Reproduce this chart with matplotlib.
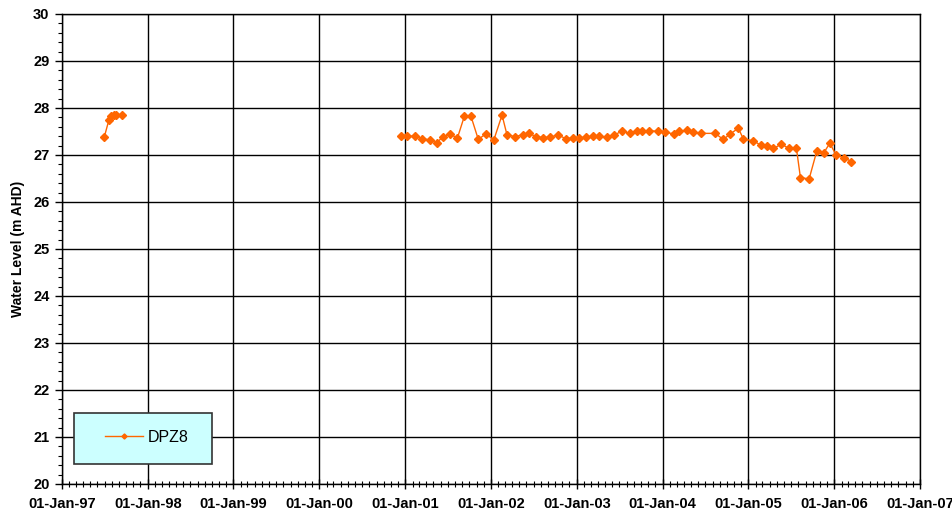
import matplotlib
matplotlib.use('Agg')
import matplotlib.pyplot as plt
import matplotlib.dates as mdates
from matplotlib.patches import Rectangle
import numpy as np
import pandas as pd

# ========== data ==========
dates = [
    '1997-06-30', '1997-07-20', '1997-07-30', '1997-08-10', '1997-08-20', '1997-09-15',
    '2000-12-13', '2001-01-10', '2001-02-10', '2001-03-12', '2001-04-15', '2001-05-15',
    '2001-06-09', '2001-07-09', '2001-08-11', '2001-09-10', '2001-10-08', '2001-11-08',
    '2001-12-10', '2002-01-13', '2002-02-17', '2002-03-10', '2002-04-13', '2002-05-16',
    '2002-06-11', '2002-07-12', '2002-08-11', '2002-09-11', '2002-10-14', '2002-11-17',
    '2002-12-15', '2003-01-12', '2003-02-08', '2003-03-10', '2003-04-06', '2003-05-09',
    '2003-06-09', '2003-07-12', '2003-08-15', '2003-09-15', '2003-10-05', '2003-11-06',
    '2003-12-12', '2004-01-11', '2004-02-21', '2004-03-13', '2004-04-15', '2004-05-09',
    '2004-06-13', '2004-08-12', '2004-09-16', '2004-10-16', '2004-11-19', '2004-12-10',
    '2005-01-22', '2005-02-22', '2005-03-20', '2005-04-17', '2005-05-21', '2005-06-22',
    '2005-07-24', '2005-08-10', '2005-09-16', '2005-10-19', '2005-11-18', '2005-12-13',
    '2006-01-10', '2006-02-13', '2006-03-15',
]
levels = [
    27.38, 27.75, 27.83, 27.86, 27.86, 27.85,
    27.40, 27.40, 27.40, 27.35, 27.32, 27.26,
    27.38, 27.45, 27.36, 27.83, 27.82, 27.33,
    27.45, 27.32, 27.85, 27.43, 27.39, 27.43,
    27.46, 27.39, 27.37, 27.38, 27.43, 27.34,
    27.37, 27.36, 27.38, 27.40, 27.40, 27.38,
    27.42, 27.51, 27.46, 27.50, 27.50, 27.52,
    27.50, 27.48, 27.45, 27.50, 27.53, 27.48,
    27.46, 27.46, 27.33, 27.45, 27.57, 27.34,
    27.30, 27.21, 27.19, 27.14, 27.23, 27.14,
    27.14, 26.52, 26.49, 27.09, 27.05, 27.25,
    26.99, 26.94, 26.86,
]
# gap in monitoring between the two clusters
break_after = 6

x_ticks = pd.date_range('1997-01-01', '2007-01-01', freq='YS')
series_name = 'DPZ8'
C_LINE = '#FF6600'

plt.rcParams.update({
    'font.family': ['Liberation Sans', 'DejaVu Sans'],
    'font.size': 10,
})

fig = plt.figure(figsize=(9.52, 5.14), dpi=100)
ax = fig.add_axes([0.0651, 0.0584, 0.9013, 0.9144])

d = pd.to_datetime(dates)
ax.plot(d[:break_after], levels[:break_after], color=C_LINE, lw=1.0,
        marker='D', ms=4.3, mec=C_LINE, mfc=C_LINE, label=series_name)
ax.plot(d[break_after:], levels[break_after:], color=C_LINE, lw=1.0,
        marker='D', ms=4.3, mec=C_LINE, mfc=C_LINE)

ax.set_xlim(x_ticks[0], x_ticks[-1])
ax.set_ylim(20, 30)
ax.set_xticks(x_ticks)
ax.xaxis.set_major_formatter(mdates.DateFormatter('%d-%b-%y'))
ax.xaxis.set_minor_locator(mdates.MonthLocator())
ax.set_yticks(np.arange(20, 31, 1))
ax.set_yticks(np.arange(20, 30.01, 0.2), minor=True)

for lab in ax.get_xticklabels() + ax.get_yticklabels():
    lab.set_fontweight('bold')
ax.tick_params(axis='both', which='major', labelsize=10.5, length=5, width=1, color='black')
ax.tick_params(axis='y', which='major', direction='out', pad=4)
ax.tick_params(axis='y', which='minor', direction='out', length=3, width=0.8)
ax.tick_params(axis='x', which='major', direction='inout', length=7, pad=6)
ax.tick_params(axis='x', which='minor', direction='inout', length=4, width=0.8)

ax.grid(True, which='major', color='black', lw=1.0)
for s in ax.spines.values():
    s.set_color('black')
    s.set_linewidth(1.0)

ax.set_ylabel('Water Level (m AHD)', fontsize=10, fontweight='bold', labelpad=6)

# legend box (cyan panel) with the entry centred inside
box = Rectangle((0.014, 0.043), 0.161, 0.108, transform=ax.transAxes,
                facecolor='#CCFFFF', edgecolor='#333333', lw=1.2, zorder=4)
ax.add_patch(box)
leg = ax.legend(loc='center', bbox_to_anchor=(0.099, 0.099), frameon=False,
                handlelength=2.4, handletextpad=0.3, fontsize=11.5,
                markerscale=0.6)
leg.set_zorder(5)

fig.savefig('out.png', dpi=100)
